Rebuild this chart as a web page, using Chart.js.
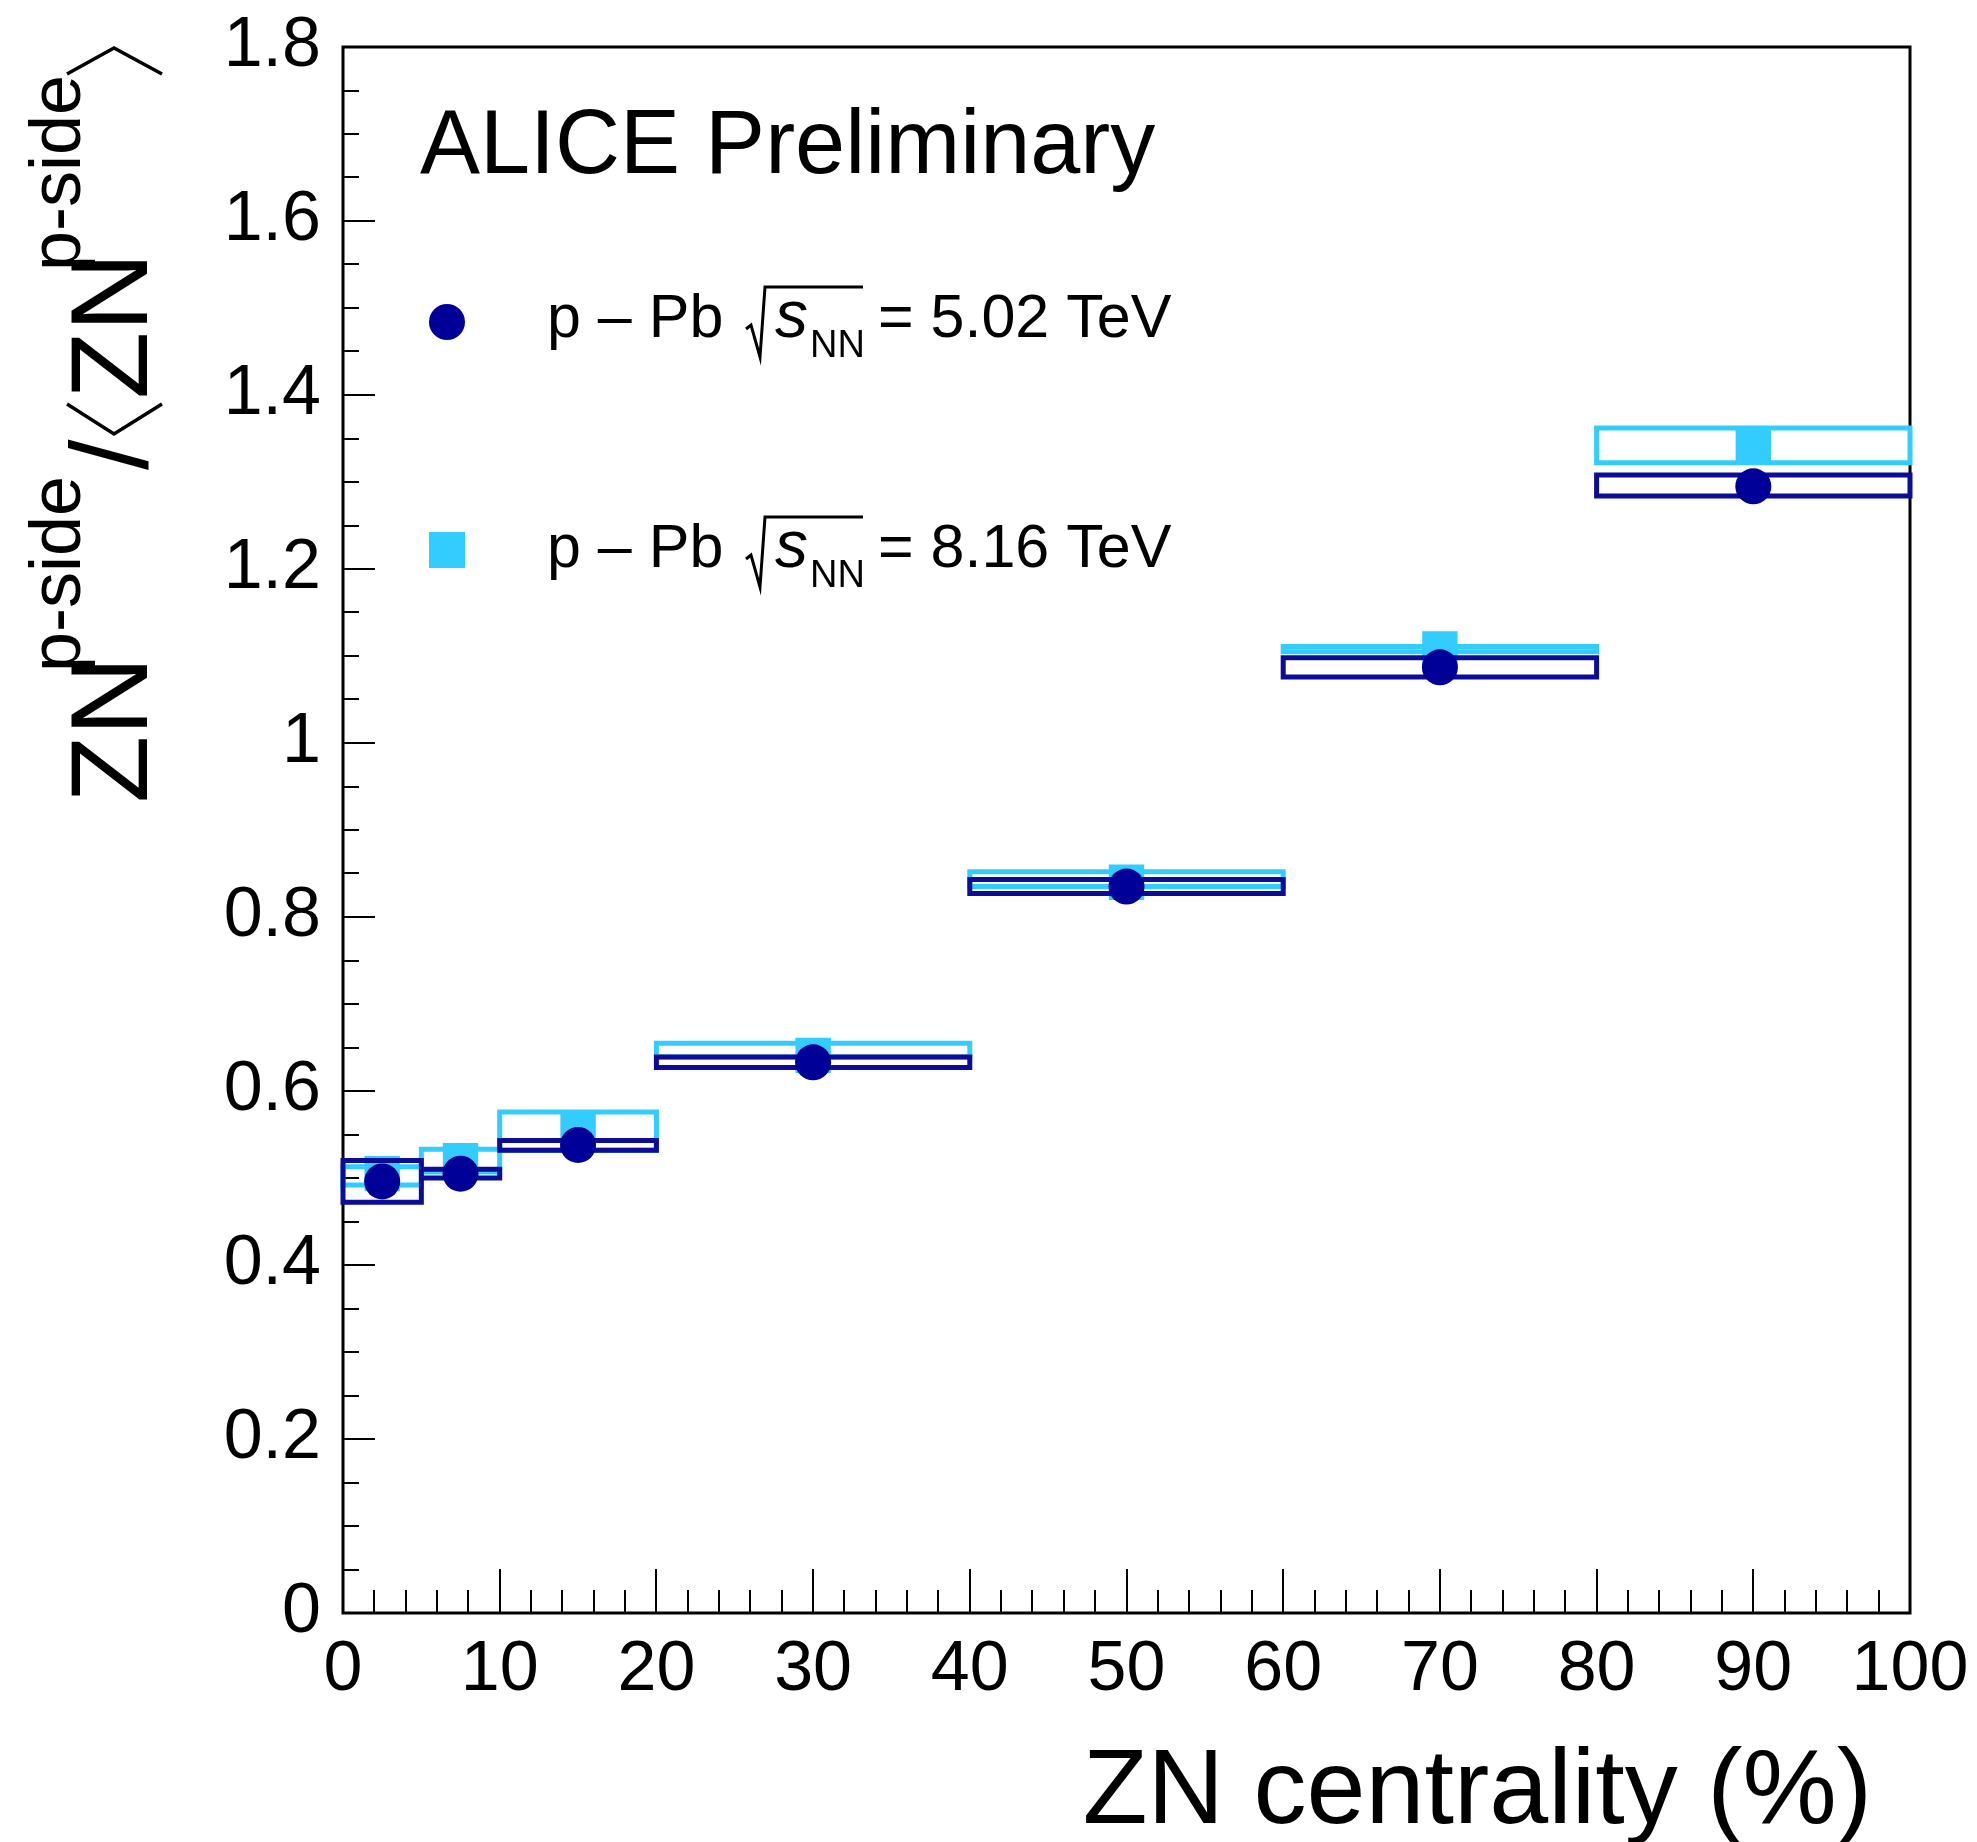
<!DOCTYPE html>
<html>
<head>
<meta charset="utf-8">
<script src="https://cdn.jsdelivr.net/npm/chart.js"></script>
<style>
html,body{margin:0;padding:0;background:#fff;}
#wrap{width:1977px;height:1842px;}
</style>
</head>
<body>
<div id="wrap"><canvas id="c" width="1977" height="1842"></canvas></div>
<script>
// ---- data ----
const binLow  = [0, 5, 10, 20, 40, 60, 80];
const binHigh = [5, 10, 20, 40, 60, 80, 100];

const ratio502   = [0.496, 0.505, 0.538, 0.633, 0.835, 1.087, 1.295];
const sysLow502  = [0.472, 0.500, 0.532, 0.627, 0.827, 1.076, 1.284];
const sysHigh502 = [0.520, 0.510, 0.543, 0.639, 0.843, 1.098, 1.308];

const ratio816   = [0.505, 0.520, 0.554, 0.641, 0.840, 1.108, 1.342];
const sysLow816  = [0.492, 0.507, 0.532, 0.639, 0.835, 1.105, 1.322];
const sysHigh816 = [0.513, 0.533, 0.576, 0.655, 0.852, 1.111, 1.362];

const xTickValues = [0, 10, 20, 30, 40, 50, 60, 70, 80, 90, 100];
const xTickLabels = ['0','10','20','30','40','50','60','70','80','90','100'];
const yTickValues = [0, 0.2, 0.4, 0.6, 0.8, 1.0, 1.2, 1.4, 1.6, 1.8];
const yTickLabels = ['0','0.2','0.4','0.6','0.8','1','1.2','1.4','1.6','1.8'];

const legendLabels = ['5.02 TeV', '8.16 TeV'];

// ---- styles ----
const FONT = '"Liberation Sans", Arial, Helvetica, sans-serif';
const DARK = '#000099';
const DARKBOX = '#0c0c98';
const CYAN = '#33ccff';

function centers() { return binLow.map((l, i) => (l + binHigh[i]) / 2); }
function markerData(vals) { const c = centers(); return vals.map((v, i) => ({x: c[i], y: v})); }
function boxData(lo, hi) {
  const pts = [];
  for (let i = 0; i < binLow.length; i++) {
    pts.push({x: binLow[i], y: lo[i]}, {x: binHigh[i], y: lo[i]},
             {x: binHigh[i], y: hi[i]}, {x: binLow[i], y: hi[i]},
             {x: binLow[i], y: lo[i]}, {x: binLow[i], y: null});
  }
  return pts;
}

const frameTicks = {
  id: 'frameTicks',
  beforeDatasetsDraw(chart) {
    const {ctx, chartArea: a, scales: {x, y}} = chart;
    ctx.save();
    ctx.strokeStyle = '#000';
    ctx.lineWidth = 2;
    ctx.beginPath();
    for (let v = 0; v <= 100.001; v += 2) {
      const px = Math.round(x.getPixelForValue(v));
      const major = Math.abs(v / 10 - Math.round(v / 10)) < 1e-6;
      ctx.moveTo(px, a.bottom);
      ctx.lineTo(px, a.bottom - (major ? 44 : 23));
    }
    for (let k = 0; k <= 36; k++) {
      const v = k * 0.05;
      const py = Math.round(y.getPixelForValue(v));
      const major = k % 4 === 0;
      ctx.moveTo(a.left, py);
      ctx.lineTo(a.left + (major ? 32 : 16), py);
    }
    ctx.stroke();
    ctx.lineWidth = 3;
    ctx.strokeRect(a.left, a.top, a.right - a.left, a.bottom - a.top);
    ctx.restore();
  }
};

function drawYTitle(ctx) {
  ctx.save();
  ctx.translate(147, 800);
  ctx.rotate(-Math.PI / 2);
  ctx.fillStyle = '#000';
  ctx.strokeStyle = '#000';
  ctx.textAlign = 'left';
  ctx.textBaseline = 'alphabetic';
  ctx.font = '110px ' + FONT;
  ctx.fillText('ZN', -3, 0);
  ctx.font = '72px ' + FONT;
  ctx.fillText('p-side', 128, -67);
  ctx.font = '110px ' + FONT;
  ctx.fillText('/', 330, 0);
  ctx.lineWidth = 3.5;
  ctx.beginPath();
  ctx.moveTo(396, -80); ctx.lineTo(366, -33); ctx.lineTo(396, 15);
  ctx.stroke();
  ctx.font = '110px ' + FONT;
  ctx.fillText('ZN', 401, 0);
  ctx.font = '72px ' + FONT;
  ctx.fillText('p-side', 529, -67);
  ctx.beginPath();
  ctx.moveTo(726, -80); ctx.lineTo(752, -33); ctx.lineTo(726, 15);
  ctx.stroke();
  ctx.restore();
}

function drawLegendEntry(ctx, yBase, energy) {
  ctx.save();
  ctx.fillStyle = '#000';
  ctx.strokeStyle = '#000';
  ctx.textAlign = 'left';
  ctx.textBaseline = 'alphabetic';
  ctx.font = '61px ' + FONT;
  ctx.fillText('p – Pb', 547, yBase);
  // radical sign
  ctx.lineWidth = 3;
  ctx.beginPath();
  ctx.moveTo(746, yBase - 8);
  ctx.lineTo(751, yBase - 12);
  ctx.lineTo(760, yBase + 20);
  ctx.lineTo(765, yBase - 50);
  ctx.lineTo(863, yBase - 50);
  ctx.stroke();
  ctx.font = 'italic 66px ' + FONT;
  ctx.fillText('s', 775, yBase);
  ctx.font = '38px ' + FONT;
  ctx.fillText('NN', 810, yBase + 20);
  ctx.font = '61px ' + FONT;
  ctx.fillText('= ' + energy, 878, yBase);
  ctx.restore();
}

const texts = {
  id: 'texts',
  afterDraw(chart) {
    const ctx = chart.ctx;
    ctx.save();
    ctx.fillStyle = '#000';
    ctx.textBaseline = 'alphabetic';
    ctx.font = '90px ' + FONT;
    ctx.textAlign = 'left';
    ctx.fillText('ALICE Preliminary', 420, 173);
    ctx.font = '106px ' + FONT;
    ctx.textAlign = 'right';
    ctx.fillText('ZN centrality (%)', 1872, 1823);
    ctx.restore();
    drawYTitle(ctx);
    // legend markers
    ctx.save();
    ctx.fillStyle = DARK;
    ctx.beginPath();
    ctx.arc(447, 322, 18, 0, Math.PI * 2);
    ctx.fill();
    ctx.fillStyle = CYAN;
    ctx.fillRect(429, 532, 36, 36);
    ctx.restore();
    drawLegendEntry(ctx, 337, legendLabels[0]);
    drawLegendEntry(ctx, 567, legendLabels[1]);
  }
};

const ctx = document.getElementById('c').getContext('2d');
new Chart(ctx, {
  type: 'scatter',
  data: {
    datasets: [
      { label: 'p-Pb 5.02 TeV', data: markerData(ratio502), pointStyle: 'circle',
        pointRadius: 18, pointHoverRadius: 18, backgroundColor: DARK, borderWidth: 0, order: 0 },
      { label: 'sys 5.02', data: boxData(sysLow502, sysHigh502), showLine: true, spanGaps: false,
        borderColor: DARKBOX, borderWidth: 5, pointRadius: 0, pointHoverRadius: 0, fill: false,
        tension: 0, borderCapStyle: 'square', borderJoinStyle: 'miter', order: 1, clip: false },
      { label: 'p-Pb 8.16 TeV', data: markerData(ratio816), pointStyle: 'rect',
        pointRadius: 25, pointHoverRadius: 25, backgroundColor: CYAN, borderWidth: 0, order: 2 },
      { label: 'sys 8.16', data: boxData(sysLow816, sysHigh816), showLine: true, spanGaps: false,
        borderColor: CYAN, borderWidth: 5, pointRadius: 0, pointHoverRadius: 0, fill: false,
        tension: 0, borderCapStyle: 'square', borderJoinStyle: 'miter', order: 3, clip: false }
    ]
  },
  options: {
    responsive: false,
    devicePixelRatio: 1,
    animation: false,
    events: [],
    layout: { padding: { left: 0, top: 47, right: 67, bottom: 0 } },
    plugins: { legend: { display: false }, tooltip: { enabled: false } },
    scales: {
      x: {
        type: 'linear', min: 0, max: 100,
        afterBuildTicks: s => { s.ticks = xTickValues.map(v => ({value: v})); },
        afterFit: s => { s.height = 229; s.paddingLeft = 0; s.paddingRight = 0; },
        grid: { display: false, drawTicks: false },
        border: { display: false },
        ticks: { color: '#000', font: { size: 70, family: FONT }, padding: 16,
                 maxRotation: 0, autoSkip: false, callback: (v, i) => xTickLabels[i] }
      },
      y: {
        type: 'linear', min: 0, max: 1.8,
        afterBuildTicks: s => { s.ticks = yTickValues.map(v => ({value: v})); },
        afterFit: s => { s.width = 343; s.paddingTop = 0; s.paddingBottom = 0; },
        grid: { display: false, drawTicks: false },
        border: { display: false },
        ticks: { color: '#000', font: { size: 70, family: FONT }, padding: 22,
                 autoSkip: false, callback: (v, i) => yTickLabels[i] }
      }
    }
  },
  plugins: [frameTicks, texts]
});
</script>
</body>
</html>
